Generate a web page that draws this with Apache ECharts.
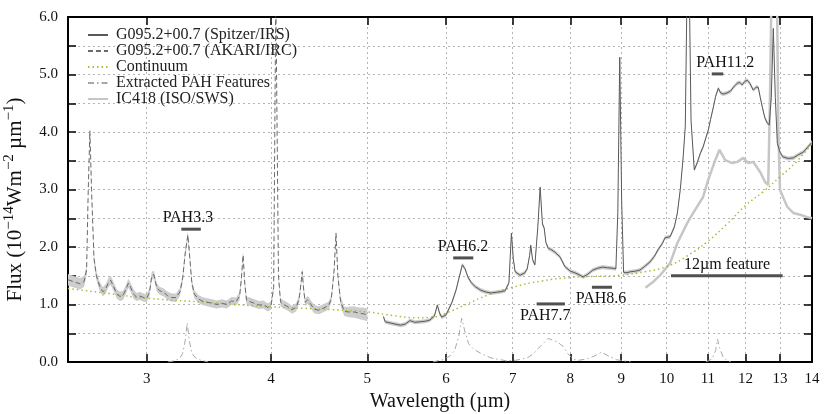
<!DOCTYPE html>
<html>
<head>
<meta charset="utf-8">
<script src="https://cdn.jsdelivr.net/npm/echarts@6/dist/echarts.min.js"></script>
<style>
  html, body { margin: 0; padding: 0; background: #fff; }
  #chart { width: 830px; height: 414px; }
</style>
</head>
<body>
<div id="chart"></div>
<script>
// wavelengths in micron, fluxes in 1e-14 W m-2 um-1
const akariWave = [2.50, 2.53, 2.57, 2.595, 2.61, 2.62, 2.63, 2.64, 2.655, 2.67,
  2.69, 2.71, 2.73, 2.745, 2.76, 2.78, 2.80, 2.82, 2.84, 2.86,
  2.875, 2.89, 2.91, 2.93, 2.95, 2.98, 3.00, 3.02, 3.035, 3.05,
  3.07, 3.09, 3.12, 3.15, 3.18, 3.21, 3.24, 3.26, 3.28, 3.30,
  3.315, 3.33, 3.35, 3.38, 3.41, 3.45, 3.49, 3.53, 3.57, 3.61,
  3.65, 3.69, 3.72, 3.735, 3.75, 3.765, 3.78, 3.81, 3.85, 3.89,
  3.93, 3.97, 4.00, 4.025, 4.045, 4.07, 4.09, 4.12, 4.16, 4.20,
  4.24, 4.27, 4.29, 4.30, 4.315, 4.33, 4.355, 4.38, 4.42, 4.47,
  4.52, 4.57, 4.60, 4.63, 4.65, 4.67, 4.70, 4.74, 4.79, 4.85,
  4.90, 4.95, 5.00];
const akariFlux = [1.43, 1.40, 1.36, 1.40, 1.60, 3.00, 4.02, 3.00, 1.80, 1.50,
  1.32, 1.22, 1.28, 1.38, 1.42, 1.30, 1.18, 1.14, 1.16, 1.27,
  1.37, 1.30, 1.18, 1.13, 1.15, 1.12, 1.11, 1.22, 1.50, 1.52,
  1.30, 1.24, 1.21, 1.15, 1.12, 1.12, 1.22, 1.45, 1.90, 2.21,
  1.80, 1.38, 1.18, 1.10, 1.06, 1.04, 1.02, 1.00, 1.02, 1.00,
  1.06, 1.05, 1.15, 1.45, 1.86, 1.35, 1.07, 1.05, 1.02, 0.99,
  1.00, 0.95, 0.98, 1.30, 6.40, 1.50, 1.04, 1.00, 0.96, 0.91,
  0.95, 1.10, 1.40, 1.57, 1.25, 1.04, 1.08, 1.02, 0.92, 0.90,
  0.94, 0.98, 1.10, 1.60, 2.24, 1.50, 1.05, 0.88, 0.87, 0.87,
  0.85, 0.84, 0.82];
const akariErr = [0.10, 0.10, 0.10, 0.09, 0.09, 0.08, 0.08, 0.08, 0.08, 0.08,
  0.08, 0.08, 0.08, 0.08, 0.08, 0.08, 0.08, 0.08, 0.08, 0.08,
  0.08, 0.08, 0.08, 0.07, 0.07, 0.07, 0.07, 0.07, 0.07, 0.07,
  0.07, 0.07, 0.07, 0.07, 0.07, 0.07, 0.07, 0.07, 0.07, 0.07,
  0.07, 0.07, 0.07, 0.07, 0.07, 0.07, 0.07, 0.07, 0.07, 0.07,
  0.07, 0.07, 0.07, 0.07, 0.07, 0.07, 0.07, 0.07, 0.07, 0.07,
  0.07, 0.07, 0.07, 0.07, 0.07, 0.07, 0.07, 0.07, 0.07, 0.07,
  0.07, 0.07, 0.07, 0.07, 0.07, 0.07, 0.07, 0.07, 0.07, 0.07,
  0.07, 0.07, 0.07, 0.07, 0.07, 0.07, 0.08, 0.08, 0.09, 0.10,
  0.10, 0.11, 0.11];

const irsWave = [5.19, 5.21, 5.27, 5.33, 5.40, 5.46, 5.52, 5.58, 5.65, 5.72,
  5.78, 5.84, 5.88, 5.91, 5.94, 6.00, 6.08, 6.14, 6.18, 6.23,
  6.27, 6.31, 6.36, 6.42, 6.50, 6.57, 6.65, 6.72, 6.80, 6.88,
  6.94, 6.98, 7.01, 7.04, 7.12, 7.20, 7.24, 7.28, 7.30, 7.33,
  7.37, 7.42, 7.46, 7.50, 7.53, 7.56, 7.60, 7.66, 7.72, 7.81,
  7.90, 8.00, 8.09, 8.18, 8.24, 8.32, 8.43, 8.52, 8.62, 8.72,
  8.83, 8.89, 8.93, 8.97, 9.01, 9.05, 9.10, 9.20, 9.30, 9.40,
  9.50, 9.62, 9.72, 9.80, 9.90, 9.96, 10.08, 10.18, 10.25, 10.32,
  10.39, 10.44, 10.51, 10.58, 10.66, 10.74, 10.81, 10.88, 10.95, 11.01,
  11.07, 11.14, 11.20, 11.27, 11.33, 11.40, 11.50, 11.59, 11.70, 11.78,
  11.85, 11.91, 11.98, 12.05, 12.12, 12.22, 12.30, 12.36, 12.42, 12.48,
  12.55, 12.62, 12.68, 12.74, 12.80, 12.86, 12.92, 13.00, 13.08, 13.25,
  13.41, 13.55, 13.72, 13.85, 14.00];
const irsFlux = [0.79, 0.70, 0.68, 0.66, 0.64, 0.66, 0.72, 0.69, 0.70, 0.71,
  0.73, 0.80, 0.99, 0.85, 0.78, 0.82, 1.03, 1.25, 1.45, 1.69,
  1.62, 1.48, 1.38, 1.31, 1.25, 1.22, 1.20, 1.21, 1.22, 1.24,
  1.38, 2.24, 1.80, 1.57, 1.51, 1.55, 1.62, 1.85, 2.03, 1.78,
  1.69, 2.35, 3.04, 2.40, 2.33, 2.08, 1.98, 1.95, 1.91, 1.83,
  1.66, 1.58, 1.55, 1.51, 1.48, 1.52, 1.60, 1.63, 1.65, 1.64,
  1.63, 1.62, 2.60, 5.30, 2.80, 1.56, 1.55, 1.57, 1.58, 1.60,
  1.66, 1.74, 1.84, 1.95, 2.06, 2.16, 2.18, 2.35, 2.59, 3.00,
  3.57, 4.10, 8.00, 4.20, 3.34, 3.48, 3.63, 3.74, 3.90, 4.03,
  4.22, 4.43, 4.62, 4.76, 4.68, 4.66, 4.68, 4.71, 4.80, 4.85,
  4.86, 4.82, 4.88, 4.90, 4.85, 4.73, 4.78, 4.78, 4.60, 4.43,
  4.25, 4.16, 4.12, 4.60, 5.80, 4.60, 3.80, 3.65, 3.57, 3.54,
  3.55, 3.60, 3.65, 3.73, 3.82];
const irsErr = 0.035;

const contWave = [2.5, 2.75, 3.0, 3.5, 4.0, 4.5, 5.0, 5.3, 5.6, 5.8, 6.0, 6.3, 6.6, 7.0,
  7.5, 8.0, 8.5, 9.0, 9.5, 10.0, 10.5, 11.0, 11.5, 12.0, 12.5, 13.0, 13.5, 14.0];
const contFlux = [1.28, 1.19, 1.11, 1.03, 0.96, 0.92, 0.87, 0.81, 0.77, 0.78, 0.85, 1.01, 1.16, 1.30,
  1.41, 1.47, 1.49, 1.51, 1.57, 1.66, 1.85, 2.10, 2.40, 2.72, 2.96, 3.22, 3.48, 3.80];

const featWave = [3.15, 3.20, 3.24, 3.26, 3.28, 3.295, 3.31, 3.33, 3.36, 3.40, 3.46, 4.0,
  5.82, 5.95, 6.05, 6.12, 6.18, 6.22, 6.27, 6.32, 6.40, 6.50, 6.66, 6.90,
  7.05, 7.24, 7.35, 7.46, 7.60, 7.76, 7.87, 7.95, 8.05, 8.15, 8.30, 8.45,
  8.60, 8.75, 8.90, 9.05, 9.20, 10.0,
  10.95, 11.10, 11.20, 11.25, 11.30, 11.40, 11.50, 11.60];
const featFlux = [0, 0.02, 0.07, 0.15, 0.38, 0.68, 0.38, 0.15, 0.07, 0.03, 0, null,
  0, 0.04, 0.10, 0.20, 0.45, 0.76, 0.52, 0.32, 0.22, 0.15, 0.07, 0.02,
  0.03, 0.07, 0.15, 0.27, 0.41, 0.35, 0.27, 0.15, 0.05, 0.03, 0.05, 0.10,
  0.17, 0.10, 0.04, 0.02, 0, null,
  0, 0.05, 0.20, 0.40, 0.25, 0.08, 0.03, 0];

const swsWave = [9.52, 9.70, 9.85, 10.08, 10.25, 10.49, 10.63, 10.88, 11.01, 11.19,
  11.30, 11.45, 11.64, 11.78, 11.94, 12.08, 12.22, 12.42, 12.56, 12.65,
  12.70, 12.76, 12.90, 12.95, 13.00, 13.22, 13.41, 13.62, 13.85, 14.00];
const swsFlux = [1.29, 1.40, 1.51, 1.72, 2.07, 2.42, 2.59, 2.87, 3.17, 3.51,
  3.69, 3.51, 3.46, 3.48, 3.55, 3.46, 3.48, 3.30, 3.13, 3.08,
  4.50, 7.00, 7.00, 4.00, 2.99, 2.70, 2.59, 2.56, 2.52, 2.50];

const pahNames = ['PAH3.3', 'PAH6.2', 'PAH7.7', 'PAH8.6', '12µm feature', 'PAH11.2'];
const pahStart = [3.25, 6.10, 7.40, 8.41, 10.10, 11.10];
const pahEnd = [3.40, 6.39, 7.90, 8.81, 13.08, 11.40];
const pahLevel = [2.31, 1.81, 1.01, 1.30, 1.50, 5.01];
const pahLabelWave = [3.30, 6.24, 7.55, 8.59, 11.50, 11.45];
const pahLabelSide = ['above', 'above', 'below', 'below', 'above', 'above'];

const xTicks = [3, 4, 5, 6, 7, 8, 9, 10, 11, 12, 13, 14];
const xMin = 2.5, xMax = 14;

const FONT = 'Liberation Serif';
const lg = Math.log10;
const tickLog = xTicks.map(lg);

function toPoints(wave, flux) {
  return wave.map((w, i) => [lg(w), flux[i]]);
}

function band(wave, flux, err) {
  return {
    type: 'custom',
    silent: true,
    clip: true,
    z: 1,
    data: [0],
    renderItem: function (params, api) {
      const up = [], dn = [];
      wave.forEach((w, i) => {
        const e = Array.isArray(err) ? err[i] : err;
        up.push(api.coord([lg(w), flux[i] + e]));
        dn.push(api.coord([lg(w), flux[i] - e]));
      });
      return {
        type: 'polygon',
        shape: { points: up.concat(dn.reverse()) },
        style: { fill: '#cdcdcd' }
      };
    }
  };
}

const chart = echarts.init(document.getElementById('chart'));

const axisLine = { show: true, onZero: false, lineStyle: { color: '#000', width: 2 } };
const tickStyle = { color: '#000', width: 1.5 };
const gridDots = { show: true, lineStyle: { color: '#b4b4b4', type: [2, 3], width: 1 } };

const option = {
  animation: false,
  backgroundColor: '#fff',
  textStyle: { fontFamily: FONT },
  grid: { left: 68, right: 18, top: 17, bottom: 52, containLabel: false, outerBoundsMode: 'none' },
  legend: {
    orient: 'vertical',
    left: 82,
    top: 22,
    itemGap: 0,
    itemWidth: 20,
    itemHeight: 14,
    padding: 5,
    itemStyle: { opacity: 0 },
    textStyle: { fontFamily: FONT, fontSize: 16, lineHeight: 16, color: '#222', padding: [0, 0, 0, 3] },
    data: ['G095.2+00.7 (Spitzer/IRS)', 'G095.2+00.7 (AKARI/IRC)', 'Continuum',
      'Extracted PAH Features', 'IC418 (ISO/SWS)']
  },
  xAxis: [{
    type: 'value',
    min: lg(xMin),
    max: lg(xMax),
    name: 'Wavelength (µm)',
    nameLocation: 'middle',
    nameGap: 27,
    nameTextStyle: { fontFamily: FONT, fontSize: 20, color: '#111' },
    axisLine: axisLine,
    axisTick: { show: true, inside: true, length: 8, lineStyle: tickStyle, customValues: tickLog },
    axisLabel: {
      customValues: tickLog,
      margin: 10,
      fontFamily: FONT, fontSize: 15, color: '#111',
      formatter: v => String(Math.round(Math.pow(10, v)))
    },
    splitLine: gridDots
  }, {
    type: 'value',
    position: 'top',
    min: lg(xMin),
    max: lg(xMax),
    axisLine: axisLine,
    axisTick: { show: true, inside: true, length: 8, lineStyle: tickStyle, customValues: tickLog },
    axisLabel: { show: false },
    splitLine: { show: false }
  }],
  yAxis: [{
    type: 'value',
    min: 0,
    max: 6,
    interval: 0.5,
    name: '{t|Flux (10}{s|−14}{t|Wm}{s|−2}{t| µm}{s|−1}{t|)}',
    nameLocation: 'middle',
    nameGap: 40,
    nameTextStyle: {
      padding: [0, 20, 0, 0],
      rich: {
        t: { fontFamily: FONT, fontSize: 21, color: '#111', lineHeight: 26 },
        s: { fontFamily: FONT, fontSize: 15, color: '#111', verticalAlign: 'top', lineHeight: 26 }
      }
    },
    axisLine: axisLine,
    axisTick: { show: true, inside: true, length: 8, lineStyle: tickStyle },
    axisLabel: {
      margin: 10,
      fontFamily: FONT, fontSize: 15, color: '#111',
      formatter: v => (Math.abs(v - Math.round(v)) < 1e-6 ? v.toFixed(1) : '')
    },
    splitLine: gridDots
  }, {
    type: 'value',
    position: 'right',
    min: 0,
    max: 6,
    interval: 0.5,
    axisLine: axisLine,
    axisTick: { show: true, inside: true, length: 8, lineStyle: tickStyle },
    axisLabel: { show: false },
    splitLine: { show: false }
  }],
  series: [
    band(akariWave, akariFlux, akariErr),
    band(irsWave, irsFlux, irsErr),
    {
      name: 'G095.2+00.7 (Spitzer/IRS)',
      type: 'line',
      data: toPoints(irsWave, irsFlux),
      symbol: 'none',
      z: 4,
      lineStyle: { color: '#595959', width: 1 },
      itemStyle: { color: '#595959' }
    },
    {
      name: 'G095.2+00.7 (AKARI/IRC)',
      type: 'line',
      data: toPoints(akariWave, akariFlux),
      symbol: 'none',
      z: 4,
      lineStyle: { color: '#6a6a6a', width: 1, type: [5, 3] },
      itemStyle: { color: '#6a6a6a' }
    },
    {
      name: 'Continuum',
      type: 'line',
      data: toPoints(contWave, contFlux),
      symbol: 'none',
      smooth: true,
      z: 3,
      lineStyle: { color: '#b3b93c', width: 1.5, type: [1.5, 3] },
      itemStyle: { color: '#b3b93c' }
    },
    {
      name: 'Extracted PAH Features',
      type: 'line',
      data: toPoints(featWave, featFlux),
      symbol: 'none',
      connectNulls: false,
      z: 3,
      lineStyle: { color: '#a8a8a8', width: 1, type: [6, 3, 1.5, 3] },
      itemStyle: { color: '#a8a8a8' }
    },
    {
      name: 'IC418 (ISO/SWS)',
      type: 'line',
      data: toPoints(swsWave, swsFlux),
      symbol: 'none',
      z: 2,
      lineStyle: { color: '#c6c6c6', width: 2.5 },
      itemStyle: { color: '#c6c6c6' }
    },
    {
      type: 'custom',
      silent: true,
      z: 6,
      data: pahNames.map((n, i) => [lg(pahStart[i]), lg(pahEnd[i]), pahLevel[i], lg(pahLabelWave[i])]),
      encode: { x: [0, 1, 3], y: 2 },
      renderItem: function (params, api) {
        const i = params.dataIndex;
        const a = api.coord([api.value(0), api.value(2)]);
        const b = api.coord([api.value(1), api.value(2)]);
        const t = api.coord([api.value(3), api.value(2)]);
        const dy = pahLabelSide[i] === 'above' ? -11 : 12;
        return {
          type: 'group',
          children: [
            { type: 'line', shape: { x1: a[0], y1: a[1], x2: b[0], y2: b[1] },
              style: { stroke: '#505050', lineWidth: 3 } },
            { type: 'text', x: t[0], y: t[1] + dy,
              style: { text: pahNames[i], fill: '#111', font: '16px "' + FONT + '"',
                align: 'center', verticalAlign: 'middle' } }
          ]
        };
      }
    }
  ]
};

chart.setOption(option);
</script>
</body>
</html>
